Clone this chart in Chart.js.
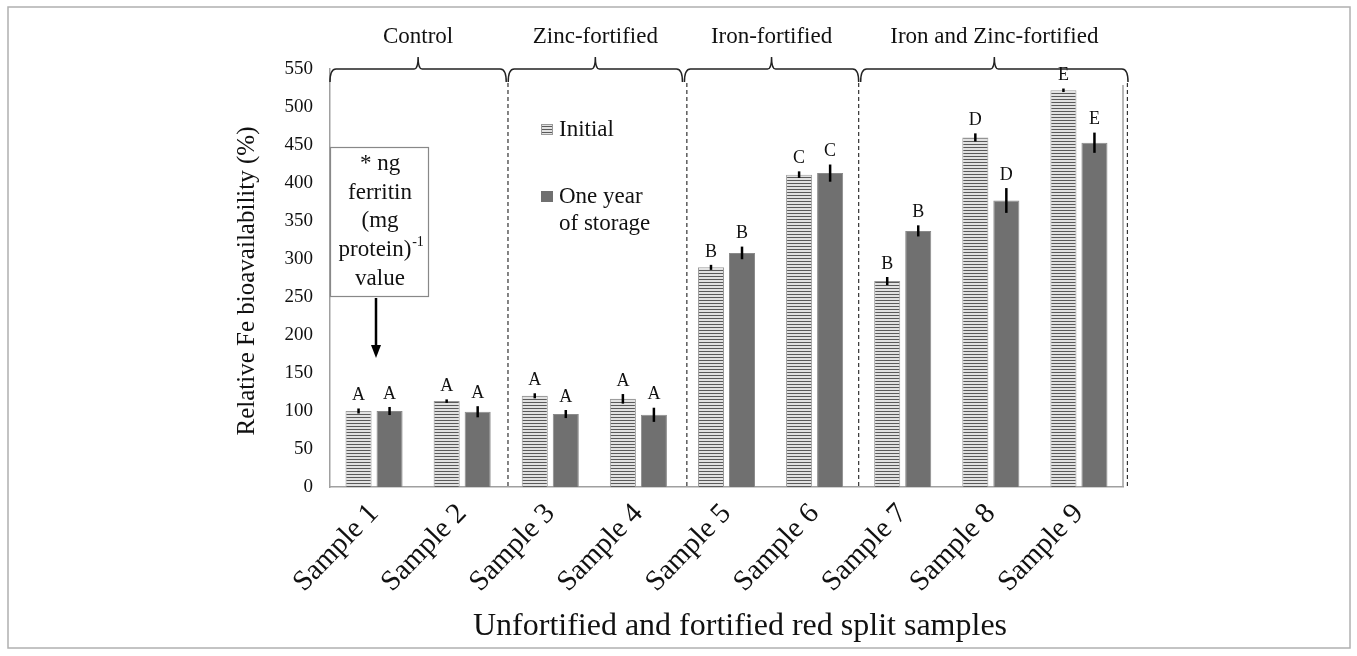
<!DOCTYPE html>
<html>
<head>
<meta charset="utf-8">
<script src="https://cdn.jsdelivr.net/npm/chart.js@4.4.1/dist/chart.umd.min.js"></script>
<style>
  html, body { margin: 0; padding: 0; background: #fff; }
  #wrap { width: 1357px; height: 656px; position: relative; }
</style>
</head>
<body>
<div id="wrap"><canvas id="fer"></canvas></div>
<script>
// ---- Données ----
const samples = ['Sample 1', 'Sample 2', 'Sample 3', 'Sample 4', 'Sample 5', 'Sample 6', 'Sample 7', 'Sample 8', 'Sample 9']
const initial = [100, 113, 120, 116, 289, 411, 271, 460, 522]
const initialErr = [2, 1, 2, 5, 2, 3, 4, 4, 1]
const storage = [100, 99, 96, 95, 308, 413, 337, 377, 453]
const storageErr = [4, 6, 4, 8, 7, 10, 6, 15, 12]
const initialLetters = ['A', 'A', 'A', 'A', 'B', 'C', 'B', 'D', 'E']
const storageLetters = ['A', 'A', 'A', 'A', 'B', 'C', 'B', 'D', 'E']
const groups = ['Control', 'Zinc-fortified', 'Iron-fortified', 'Iron and Zinc-fortified']
const groupBounds = [[0, 2], [2, 4], [4, 6], [6, 9]]
const yTicks = [0, 50, 100, 150, 200, 250, 300, 350, 400, 450, 500, 550]

const SERIF = '"Liberation Serif", "Times New Roman", serif'

// motif rayé pour les barres "Initial"
function stripes() {
  const c = document.createElement('canvas')
  c.width = 4; c.height = 3
  const g = c.getContext('2d')
  g.fillStyle = '#e2e2e2'; g.fillRect(0, 0, 4, 3)
  g.fillStyle = '#5a5a5a'; g.fillRect(0, 0, 4, 1)
  return g.createPattern(c, 'repeat')
}

// position x d'une frontière entre catégories
function boundX(chart, b) {
  const a = chart.chartArea
  return a.left + b * (a.right - a.left) / samples.length
}

const decor = {
  id: 'decor',
  afterDatasetsDraw(chart) {
    const ctx = chart.ctx
    const a = chart.chartArea
    const y = chart.scales.y
    ctx.save()

    // cadre de la figure
    ctx.strokeStyle = '#b0b0b0'; ctx.lineWidth = 1.5
    ctx.strokeRect(8, 7, 1342, 641)

    // bord droit du graphique
    ctx.strokeStyle = '#a0a0a0'; ctx.lineWidth = 1.5
    ctx.beginPath(); ctx.moveTo(a.right, a.top + 16); ctx.lineTo(a.right, a.bottom); ctx.stroke()

    // séparateurs pointillés
    ctx.strokeStyle = '#333'; ctx.lineWidth = 1.2
    ctx.setLineDash([4, 3])
    ;[2.02, 4.05, 6, 9.05].forEach(b => {
      const x = boundX(chart, b)
      ctx.beginPath(); ctx.moveTo(x, a.top + 14); ctx.lineTo(x, a.bottom); ctx.stroke()
    })
    ctx.setLineDash([])

    // accolades + titres de groupes
    ctx.strokeStyle = '#222'; ctx.lineWidth = 1.5
    ctx.fillStyle = '#111'
    ctx.font = '23px ' + SERIF
    ctx.textAlign = 'center'; ctx.textBaseline = 'middle'
    groupBounds.forEach((gb, i) => {
      const x1 = boundX(chart, gb[0]) + (i === 0 ? 0 : 2)
      const x2 = boundX(chart, gb[1]) + (i === 3 ? 5 : 0)
      const cx = (x1 + x2) / 2
      const yy = a.top
      ctx.beginPath()
      ctx.moveTo(x1, yy + 13)
      ctx.quadraticCurveTo(x1, yy, x1 + 6, yy)
      ctx.lineTo(cx - 4, yy)
      ctx.quadraticCurveTo(cx, yy, cx, yy - 12)
      ctx.quadraticCurveTo(cx, yy, cx + 4, yy)
      ctx.lineTo(x2 - 6, yy)
      ctx.quadraticCurveTo(x2, yy, x2, yy + 13)
      ctx.stroke()
      ctx.fillText(groups[i], cx, yy - 32)
    })

    // barres d'erreur et lettres
    const series = [[initial, initialErr, initialLetters], [storage, storageErr, storageLetters]]
    ctx.font = '18px ' + SERIF
    ctx.textBaseline = 'bottom'
    series.forEach((s, di) => {
      const meta = chart.getDatasetMeta(di)
      meta.data.forEach((bar, i) => {
        const top = y.getPixelForValue(s[0][i] + s[1][i])
        const bot = y.getPixelForValue(s[0][i] - s[1][i])
        ctx.strokeStyle = '#000'; ctx.lineWidth = 2.5
        ctx.beginPath(); ctx.moveTo(bar.x, top - 1); ctx.lineTo(bar.x, bot + 1); ctx.stroke()
        ctx.fillText(s[2][i], bar.x, top - 5)
      })
    })

    // légende
    ctx.font = '23px ' + SERIF
    ctx.textAlign = 'left'; ctx.textBaseline = 'middle'
    ctx.fillStyle = stripes()
    ctx.fillRect(541, 124, 12, 11)
    ctx.strokeStyle = '#999'; ctx.lineWidth = 1
    ctx.strokeRect(541.5, 124.5, 11, 10)
    ctx.fillStyle = '#707070'
    ctx.fillRect(541, 191, 12, 11)
    ctx.fillStyle = '#111'
    ctx.fillText('Initial', 559, 130)
    ctx.fillText('One year', 559, 197)
    ctx.fillText('of storage', 559, 224)

    // encadré d'annotation
    ctx.strokeStyle = '#888'; ctx.lineWidth = 1.2
    ctx.strokeRect(a.left + 0.5, 147.5, 98, 149)
    ctx.textAlign = 'center'
    const cx = a.left + 50
    ctx.fillText('* ng', cx, 164)
    ctx.fillText('ferritin', cx, 193)
    ctx.fillText('(mg', cx, 221)
    ctx.fillText('protein)', cx - 5, 250)
    ctx.font = '14px ' + SERIF
    ctx.fillText('-1', cx + 38, 242)
    ctx.font = '23px ' + SERIF
    ctx.fillText('value', cx, 279)
    // flèche
    ctx.strokeStyle = '#000'; ctx.lineWidth = 2.5
    ctx.beginPath(); ctx.moveTo(376, 298); ctx.lineTo(376, 348); ctx.stroke()
    ctx.beginPath(); ctx.moveTo(371, 345); ctx.lineTo(381, 345); ctx.lineTo(376, 358); ctx.closePath()
    ctx.fillStyle = '#000'; ctx.fill()

    // titres des axes
    ctx.fillStyle = '#111'
    ctx.font = '32px ' + SERIF
    ctx.fillText('Unfortified and fortified red split samples', 740, 627)
    ctx.font = '25px ' + SERIF
    ctx.translate(247, 281)
    ctx.rotate(-Math.PI / 2)
    ctx.fillText('Relative Fe bioavailability (%)', 0, 0)
    ctx.restore()
  }
}

new Chart(document.getElementById('fer'), {
  type: 'bar',
  data: {
    labels: samples,
    datasets: [{
      label: 'Initial',
      data: initial,
      backgroundColor: stripes(),
      borderColor: '#9a9a9a',
      borderWidth: 1
    }, {
      label: 'One year of storage',
      data: storage,
      backgroundColor: '#707070',
      borderColor: '#8a8a8a',
      borderWidth: 1
    }]
  },
  options: {
    responsive: true,
    maintainAspectRatio: false,
    animation: false,
    categoryPercentage: 0.704,
    barPercentage: 0.84,
    layout: { padding: { top: 69, right: 234, bottom: 0, left: 0 } },
    plugins: { legend: { display: false }, tooltip: { enabled: false } },
    scales: {
      x: {
        grid: { display: false, drawTicks: false },
        border: { color: '#a0a0a0', width: 1.5 },
        ticks: {
          color: '#111',
          font: { family: SERIF, size: 29 },
          minRotation: 46, maxRotation: 46,
          padding: 10,
          autoSkip: false
        },
        afterFit: s => { s.height = 169 }
      },
      y: {
        min: 0, max: 550,
        grid: { display: false, drawTicks: false },
        border: { color: '#a0a0a0', width: 1.5 },
        afterBuildTicks: s => { s.ticks = yTicks.map(v => ({ value: v })) },
        ticks: {
          color: '#111',
          font: { family: SERIF, size: 19 },
          padding: 17
        },
        afterFit: s => { s.width = 330 }
      }
    }
  },
  plugins: [decor]
})
</script>
</body>
</html>
